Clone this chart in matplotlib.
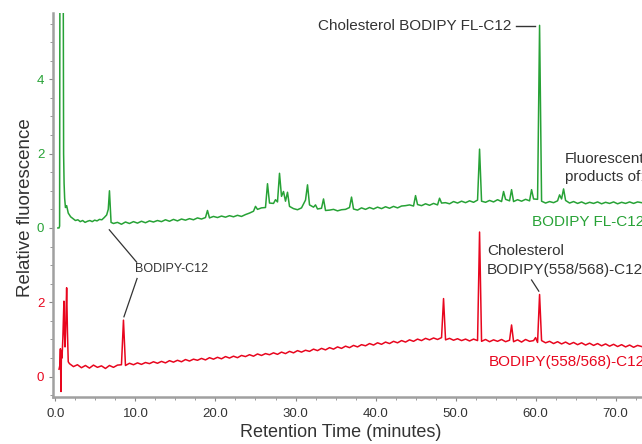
import numpy as np
import matplotlib
matplotlib.use('Agg')
import matplotlib.pyplot as plt

plt.rcParams['font.family'] = ['Liberation Sans', 'DejaVu Sans']

# colours of the two traces
green = '#27a236'
red = '#e8061e'
dark = '#333333'

# green trace (BODIPY FL-C12), values in its own units, offset upward later
green_offset = 4.0
green_start_t = [0.3, 0.45, 0.52, 0.56, 0.97, 1.02, 1.08, 1.15, 1.25, 1.4, 1.6, 1.9, 2.2, 2.5, 2.8,
                 3.1, 3.4, 3.7, 4.0, 4.3, 4.6, 4.9, 5.2, 5.5, 5.8, 6.1, 6.4, 6.6, 6.75, 6.95]
green_start_v = [0.0, 0.0, 0.05, 7.0, 7.0, 2.0, 1.2, 0.8, 0.55, 0.6, 0.4, 0.3, 0.25, 0.2, 0.22,
                 0.17, 0.2, 0.15, 0.18, 0.2, 0.17, 0.21, 0.19, 0.23, 0.22, 0.28, 0.35, 0.5, 1.0, 0.15]
# baseline readings every half minute from 7.25 min
green_base_t = np.arange(7.25, 73.3, 0.5)
green_base_v = [0.12, 0.15, 0.10, 0.16, 0.12, 0.17, 0.13, 0.18, 0.14, 0.19,
                0.16, 0.20, 0.17, 0.22, 0.18, 0.23, 0.19, 0.24, 0.21, 0.25,
                0.22, 0.27, 0.24, 0.28, 0.27, 0.31, 0.28, 0.32, 0.29, 0.33,
                0.30, 0.34, 0.31, 0.36, 0.40, 0.45, 0.50, 0.54, 0.55, 0.67,
                0.66, 0.70, 0.85, 0.72, 0.58, 0.52, 0.49, 0.54, 0.75, 0.62,
                0.56, 0.51, 0.53, 0.47, 0.48, 0.50, 0.46, 0.49, 0.50, 0.55,
                0.51, 0.48, 0.54, 0.50, 0.55, 0.51, 0.56, 0.52, 0.57, 0.53,
                0.58, 0.54, 0.59, 0.60, 0.62, 0.59, 0.63, 0.60, 0.65, 0.61,
                0.66, 0.62, 0.67, 0.68, 0.65, 0.71, 0.67, 0.72, 0.68, 0.73,
                0.69, 0.75, 0.72, 0.69, 0.74, 0.70, 0.76, 0.71, 0.77, 0.73,
                0.71, 0.76, 0.72, 0.77, 0.73, 0.78, 0.77, 0.72, 0.67, 0.71,
                0.68, 0.73, 0.78, 0.74, 0.67, 0.71, 0.66, 0.70, 0.65, 0.69,
                0.66, 0.70, 0.65, 0.69, 0.66, 0.70, 0.65, 0.69, 0.66, 0.70,
                0.66, 0.70, 0.68]
green_peak_t = [19.0, 25.0, 26.5, 27.5, 28.0, 28.5, 29.0, 31.5, 32.5, 33.5, 37.0, 45.0, 48.0,
                53.0, 56.0, 57.0, 59.5, 60.5, 63.0, 63.5]
green_peak_v = [0.47, 0.58, 1.19, 0.76, 1.47, 0.98, 0.96, 1.16, 0.62, 0.78, 0.83, 0.87, 0.80,
                2.12, 0.98, 1.03, 1.03, 5.45, 0.89, 1.05]

# red trace (BODIPY(558/568)-C12)
red_start_t = [0.45, 0.55, 0.62, 0.69, 0.75, 0.82, 0.92, 1.0, 1.06, 1.12, 1.2, 1.3, 1.4, 1.5, 1.6]
red_start_v = [0.2, 0.3, 0.75, -0.4, 0.7, 0.5, 1.0, 1.6, 2.03, 1.2, 0.8, 1.5, 2.39, 1.2, 0.4]
red_base_t = np.arange(1.75, 73.3, 0.5)
red_base_v = [0.35, 0.27, 0.32, 0.24, 0.30, 0.23, 0.31, 0.25, 0.29, 0.22,
              0.30, 0.25, 0.31, 0.32, 0.30, 0.36, 0.32, 0.37, 0.33, 0.38,
              0.35, 0.40, 0.36, 0.41, 0.37, 0.43, 0.39, 0.44, 0.40, 0.46,
              0.42, 0.47, 0.44, 0.49, 0.45, 0.51, 0.47, 0.52, 0.48, 0.54,
              0.50, 0.55, 0.51, 0.57, 0.54, 0.59, 0.55, 0.61, 0.57, 0.62,
              0.59, 0.64, 0.60, 0.66, 0.62, 0.68, 0.64, 0.70, 0.66, 0.71,
              0.68, 0.74, 0.70, 0.76, 0.72, 0.78, 0.74, 0.80, 0.76, 0.82,
              0.78, 0.84, 0.80, 0.86, 0.83, 0.89, 0.85, 0.91, 0.87, 0.93,
              0.89, 0.95, 0.91, 0.97, 0.93, 0.99, 0.95, 1.01, 0.97, 1.03,
              0.99, 1.04, 1.00, 1.05, 0.99, 1.03, 0.98, 1.02, 0.97, 1.01,
              0.96, 1.01, 0.97, 0.95, 1.00, 0.94, 0.99, 0.95, 1.00, 0.94,
              0.98, 0.94, 0.99, 0.93, 1.00, 0.95, 0.97, 0.92, 0.97, 0.91,
              0.95, 0.89, 0.94, 0.88, 0.93, 0.87, 0.92, 0.86, 0.91, 0.85,
              0.90, 0.84, 0.89, 0.83, 0.88, 0.82, 0.87, 0.81, 0.86, 0.80,
              0.85, 0.79, 0.84, 0.81]
red_peak_t = [8.5, 48.5, 53.0, 57.0, 60.0, 60.5]
red_peak_v = [1.52, 2.10, 3.89, 1.39, 1.05, 2.21]

# y ticks: red 0,2 at the bottom, green 0,2,4 above
ytick_pos = [0, 2, 4, 6, 8]
ytick_lab = ['0', '2', '0', '2', '4']
ytick_col = [red, red, green, green, green]


def trace(start_t, start_v, base_t, base_v, peak_t, peak_v):
    t = np.concatenate([start_t, base_t, peak_t])
    v = np.concatenate([start_v, base_v, peak_v])
    order = np.argsort(t, kind='stable')
    return t[order], v[order]


gt, gv = trace(green_start_t, green_start_v, green_base_t, green_base_v, green_peak_t, green_peak_v)
rt, rv = trace(red_start_t, red_start_v, red_base_t, red_base_v, red_peak_t, red_peak_v)

fig = plt.figure(figsize=(6.42, 4.44), dpi=100)
ax = fig.add_axes([0.082, 0.1065, 0.918, 0.864])

ax.plot(gt, gv + green_offset, color=green, lw=1.1)
ax.plot(rt, rv, color=red, lw=1.1)

ax.set_xlim(-0.35, 73.3)
ax.set_ylim(-0.54, 9.78)

for side in ['top', 'right']:
    ax.spines[side].set_visible(False)
for side in ['left', 'bottom']:
    ax.spines[side].set_color('#a0a0a0')
    ax.spines[side].set_linewidth(1.8)

ax.set_xticks(np.arange(0, 71, 10))
ax.set_xticklabels(['%.1f' % x for x in np.arange(0, 71, 10)])
ax.set_xticks(np.arange(0, 73.3, 2.5), minor=True)
ax.set_yticks(ytick_pos)
ax.set_yticklabels(ytick_lab)
ax.set_yticks(np.arange(-0.5, 9.8, 0.5), minor=True)
for lbl, c in zip(ax.get_yticklabels(), ytick_col):
    lbl.set_color(c)

ax.tick_params(axis='both', which='major', length=3, width=0.8, color='#888888', labelsize=9.5, pad=3)
ax.tick_params(axis='both', which='minor', length=2, width=0.6, color='#888888')
ax.tick_params(axis='x', labelcolor=dark, pad=5)

ax.set_xlabel('Retention Time (minutes)', fontsize=13, color=dark)
ax.xaxis.set_label_coords(0.488, -0.07)
ax.set_ylabel('Relative fluorescence', fontsize=13.5, color=dark)
ax.yaxis.set_label_coords(-0.032, 0.492)

# annotations
ax.text(32.8, 9.43, 'Cholesterol BODIPY FL-C12', fontsize=11, color=dark, va='center')
ax.plot([57.6, 59.95], [9.43, 9.43], color=dark, lw=1.0)

ax.text(63.7, 5.86, 'Fluorescent', fontsize=11, color=dark, va='center')
ax.text(63.7, 5.37, 'products of:', fontsize=11, color=dark, va='center')
ax.text(59.6, 4.15, 'BODIPY FL-C12', fontsize=11, color=green, va='center')

ax.text(10.0, 2.89, 'BODIPY-C12', fontsize=9, color=dark, va='center')
ax.plot([6.73, 10.15], [3.95, 3.08], color=dark, lw=0.9)
ax.plot([10.2, 8.56], [2.64, 1.61], color=dark, lw=0.9)

ax.text(53.9, 3.37, 'Cholesterol', fontsize=11, color=dark, va='center')
ax.text(53.9, 2.88, 'BODIPY(558/568)-C12', fontsize=11, color=dark, va='center')
ax.plot([59.5, 60.4], [2.6, 2.3], color=dark, lw=0.9)

ax.text(54.2, 0.40, 'BODIPY(558/568)-C12', fontsize=11, color=red, va='center')

fig.savefig('out.png', dpi=100)
